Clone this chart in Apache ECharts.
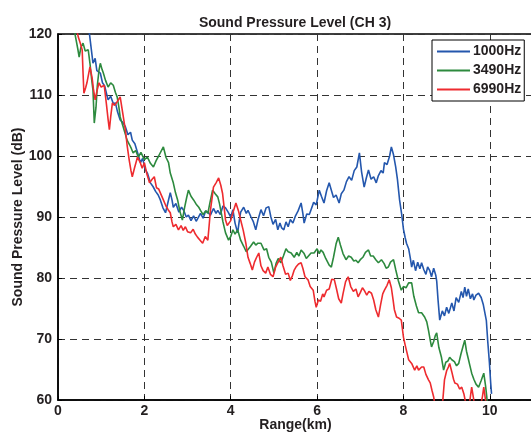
<!DOCTYPE html>
<html>
<head>
<meta charset="utf-8">
<script src="https://cdn.jsdelivr.net/npm/echarts@6/dist/echarts.min.js"></script>
<style>
  html, body { margin: 0; padding: 0; background: #fff; }
  #grafica { width: 531px; height: 435px; }
</style>
</head>
<body>
<div id="grafica"></div>
<script>
// datos: [rango km, nivel dB]
const seriesNames = ["1000Hz", "3490Hz", "6990Hz"];
const xTicks = [0, 2, 4, 6, 8, 10];
const yTicks = [60, 70, 80, 90, 100, 110, 120];

const ch1000 = [[0.55,124],[0.65,122],[0.72,120.5],[0.78,117],[0.81,115.2],[0.86,116],[0.9,114],[0.98,113.6],[1.03,112],[1.08,111.5],[1.16,109.2],[1.22,109.8],[1.28,108.6],[1.33,108.7],[1.38,107.2],[1.44,105.9],[1.5,105.5],[1.56,104.8],[1.62,103.5],[1.68,103.9],[1.72,102.6],[1.78,102],[1.84,100.6],[1.91,98.9],[1.96,99.6],[2.02,97.8],[2.07,97.2],[2.14,95.6],[2.2,95],[2.26,94.2],[2.32,93.6],[2.37,92.8],[2.43,91.5],[2.49,90.7],[2.55,92.5],[2.6,94],[2.64,92.8],[2.67,91.6],[2.73,92.2],[2.8,90.8],[2.86,91.6],[2.91,91.1],[2.97,90],[3.02,90.3],[3.08,89.4],[3.14,90.2],[3.2,89.3],[3.23,89.2],[3.3,90.6],[3.36,89.8],[3.42,91],[3.47,90.8],[3.53,90.3],[3.6,91.4],[3.66,90.6],[3.7,91.1],[3.76,90.4],[3.82,91.8],[3.88,91.5],[3.94,90.8],[4.0,90],[4.05,91.2],[4.1,89],[4.16,87.4],[4.2,89.5],[4.23,90.8],[4.3,91.6],[4.36,90.6],[4.4,91.1],[4.47,90],[4.52,89.3],[4.58,87.9],[4.63,89.5],[4.7,91.2],[4.76,90.2],[4.82,91.5],[4.88,91.7],[4.93,90],[4.98,88.8],[5.04,89.6],[5.09,87.9],[5.14,89],[5.18,88.2],[5.23,87.9],[5.28,89.2],[5.33,88.4],[5.38,89.6],[5.44,89],[5.5,90.2],[5.56,91],[5.63,92.3],[5.67,90.6],[5.7,89],[5.76,90.5],[5.82,90.4],[5.86,91.2],[5.92,92.4],[5.98,92],[6.05,94.4],[6.1,93.4],[6.16,92.3],[6.22,94.3],[6.28,95.6],[6.33,94.4],[6.38,93.2],[6.44,93.6],[6.51,92.3],[6.56,93.8],[6.62,94.4],[6.68,95.8],[6.74,96.6],[6.8,96],[6.86,97.6],[6.92,98.2],[6.98,100.5],[7.03,97.4],[7.09,94.9],[7.14,96.4],[7.19,97.7],[7.25,96.2],[7.31,96.6],[7.37,95.6],[7.42,96.8],[7.48,97.6],[7.53,97.2],[7.56,98.9],[7.62,98.6],[7.68,100],[7.72,101.5],[7.77,100.2],[7.82,98.2],[7.86,96.2],[7.91,92.8],[7.96,90.4],[8.0,88],[8.04,86.6],[8.07,85.7],[8.12,84.8],[8.16,83.2],[8.19,81.8],[8.23,82.9],[8.28,81.2],[8.33,82.6],[8.38,81.5],[8.42,82.5],[8.47,81.4],[8.52,80.6],[8.56,81.8],[8.61,81.2],[8.65,80.2],[8.7,81.6],[8.75,80.4],[8.77,79.5],[8.8,76.5],[8.84,73.1],[8.9,74.6],[8.95,73.8],[9.0,75.2],[9.05,74.2],[9.12,75.9],[9.17,74.6],[9.22,76.8],[9.28,76],[9.34,77.8],[9.38,76.8],[9.42,78.5],[9.46,77],[9.5,78.2],[9.55,76.6],[9.6,77.4],[9.63,76.4],[9.68,77.2],[9.74,77.5],[9.8,76.8],[9.85,75.6],[9.88,75.9],[9.92,73],[9.95,69.8],[9.99,66.2],[10.02,62.8],[10.04,61]];

const ch3490 = [[0.3,124],[0.38,120.5],[0.42,119],[0.46,117.5],[0.49,116.2],[0.53,117.8],[0.58,118.5],[0.63,117.2],[0.7,117.4],[0.74,115.2],[0.78,112.5],[0.81,110.8],[0.84,105.4],[0.88,108],[0.91,111.5],[0.95,114.1],[0.98,115.2],[1.02,114.2],[1.05,113.6],[1.1,112.4],[1.16,111.3],[1.22,112],[1.28,111.6],[1.33,110.4],[1.37,109.7],[1.41,108],[1.44,106.4],[1.5,105],[1.55,103.8],[1.6,102.6],[1.66,101.8],[1.7,101.2],[1.74,100.5],[1.8,100.9],[1.86,99.8],[1.92,100.6],[2.0,99.4],[2.07,99.8],[2.14,98.8],[2.21,98.2],[2.27,99.2],[2.33,100],[2.37,100.2],[2.44,101.5],[2.5,99.8],[2.56,98.9],[2.6,97.2],[2.67,95.6],[2.72,94],[2.77,92.8],[2.82,91],[2.88,89.5],[2.93,91.5],[2.98,93.2],[3.02,94.4],[3.08,93.4],[3.14,92.8],[3.2,92.1],[3.26,91.6],[3.3,91.1],[3.36,90.4],[3.42,91],[3.47,90.6],[3.52,92.4],[3.58,94.4],[3.64,93.8],[3.7,93.3],[3.74,92.2],[3.77,91.1],[3.82,89.2],[3.88,87.4],[3.95,86.2],[4.0,86.8],[4.05,87.9],[4.1,87.2],[4.16,87.9],[4.23,86.2],[4.3,85.2],[4.36,84.3],[4.4,84.1],[4.46,85.2],[4.53,85.9],[4.58,85.4],[4.63,85.7],[4.7,85.7],[4.77,84.6],[4.83,84.8],[4.88,83.4],[4.94,82.6],[5.0,80.8],[5.05,82.4],[5.1,83.2],[5.16,82.5],[5.22,83.6],[5.28,84.8],[5.33,84.3],[5.4,84.1],[5.47,83.4],[5.53,84.2],[5.58,83.6],[5.63,84.6],[5.7,84],[5.75,83.2],[5.79,83.4],[5.86,84.1],[5.93,84.1],[6.0,84.8],[6.05,84],[6.09,84.6],[6.14,84.2],[6.2,83.2],[6.28,82.1],[6.33,81.8],[6.38,83.4],[6.44,85.6],[6.49,86.7],[6.54,85.4],[6.6,84],[6.67,83],[6.73,83.6],[6.79,83.4],[6.85,82.8],[6.9,82.9],[6.95,82.5],[7.0,83],[7.06,83.4],[7.12,84.2],[7.19,84.6],[7.24,83.6],[7.3,83.6],[7.36,83],[7.42,82.5],[7.49,83],[7.55,82.4],[7.6,81.6],[7.65,81.8],[7.7,82.6],[7.77,83],[7.82,81.4],[7.88,79.6],[7.95,78],[8.0,78.6],[8.06,78.4],[8.12,79.2],[8.19,79.2],[8.24,77],[8.3,75.4],[8.35,74.3],[8.42,74.3],[8.49,73.6],[8.54,72.8],[8.58,71.4],[8.62,69.8],[8.65,68.7],[8.7,69.6],[8.74,70.6],[8.77,71],[8.82,68.6],[8.88,67],[8.93,64.9],[8.98,66.2],[9.03,66.4],[9.07,67],[9.12,66.6],[9.18,66.3],[9.23,65.6],[9.28,66],[9.33,67.5],[9.38,68.8],[9.42,69.8],[9.46,68],[9.5,66.8],[9.54,65.6],[9.58,64.4],[9.63,63.4],[9.68,62.6],[9.74,62.1],[9.8,63.2],[9.86,64.4],[9.9,62.4],[9.93,60.5],[9.96,58]];

const ch6990 = [[0.35,124],[0.44,120.5],[0.47,119.5],[0.52,118.4],[0.56,117.4],[0.58,113.6],[0.6,110.3],[0.64,111.2],[0.67,112],[0.74,114.6],[0.79,112.8],[0.82,111],[0.86,109.2],[0.9,110.6],[0.95,112],[1.0,111.3],[1.07,111.6],[1.12,108.6],[1.16,106],[1.19,104.3],[1.22,106.4],[1.26,108.7],[1.31,108.3],[1.37,108.9],[1.44,109.7],[1.5,107],[1.56,104.3],[1.6,101.8],[1.65,99.3],[1.69,97.6],[1.72,96.6],[1.77,98],[1.84,99.8],[1.9,99],[1.95,98],[2.0,98.9],[2.06,97],[2.12,95.6],[2.18,96.2],[2.23,96.6],[2.28,94.8],[2.33,94.6],[2.37,94.4],[2.44,92.8],[2.5,91.8],[2.55,91.2],[2.6,90.7],[2.64,89.2],[2.67,88.4],[2.73,88.8],[2.79,87.9],[2.85,88.6],[2.9,87.8],[2.95,88.4],[3.0,87.6],[3.07,87.4],[3.13,88],[3.18,87.2],[3.23,86.7],[3.29,86.2],[3.35,85.7],[3.41,86.8],[3.47,86.2],[3.5,88.6],[3.53,91.1],[3.57,93.2],[3.6,94.9],[3.66,95.6],[3.72,96.4],[3.77,95.2],[3.81,93.9],[3.85,91.4],[3.88,89.5],[3.92,88.6],[3.95,88.4],[4.0,89.4],[4.05,90.7],[4.12,92.3],[4.18,91],[4.23,89.5],[4.29,87.8],[4.35,85.7],[4.4,83.4],[4.45,82.4],[4.5,81.3],[4.55,82.6],[4.6,83.4],[4.65,84.1],[4.7,82],[4.75,81.2],[4.81,80.8],[4.86,81.8],[4.92,80.6],[4.98,80.2],[5.04,81.8],[5.09,82.5],[5.16,83.4],[5.21,82],[5.27,80.6],[5.33,80.8],[5.38,79.6],[5.43,80.4],[5.47,81.3],[5.51,81.8],[5.57,82.3],[5.63,82.5],[5.67,81.6],[5.72,80.2],[5.79,79.7],[5.84,78.6],[5.91,78],[5.95,76.2],[5.98,75.2],[6.03,76.4],[6.08,76.2],[6.13,77.4],[6.16,76.9],[6.22,78],[6.28,78.2],[6.34,79.8],[6.4,79.7],[6.45,78.2],[6.5,76.6],[6.56,75.9],[6.6,77.4],[6.66,79.4],[6.72,80.2],[6.78,78.6],[6.84,77.8],[6.9,78.2],[6.95,76.9],[7.0,77.6],[7.05,78.4],[7.09,78],[7.15,77.2],[7.2,77.8],[7.26,77.5],[7.31,76.4],[7.36,74.8],[7.42,73.6],[7.47,75.6],[7.52,77.4],[7.56,78],[7.62,78.8],[7.67,79.7],[7.72,78.4],[7.76,76.4],[7.79,74.8],[7.84,73.6],[7.9,73.4],[7.95,73.1],[8.0,70.3],[8.04,69],[8.08,67.8],[8.12,66.6],[8.19,66],[8.26,64.9],[8.31,65.6],[8.35,64.9],[8.42,65.4],[8.47,65.4],[8.52,64.2],[8.58,63.3],[8.62,62.8],[8.66,61.6],[8.7,60.5],[8.74,58.5],[8.78,57],[8.85,56.5],[8.9,59],[8.95,63.3],[9.0,64.8],[9.04,65.4],[9.07,66],[9.12,64.6],[9.16,63.4],[9.19,62.8],[9.25,62.6],[9.3,61.8],[9.35,62.1],[9.4,61],[9.45,59.2],[9.5,58],[9.54,60],[9.58,62.1],[9.62,60.4],[9.66,58.4],[9.72,57.6],[9.78,58.8],[9.83,60.6],[9.86,62.1],[9.9,60],[9.93,58]];

const colores = ["#2457ad", "#2d8a3e", "#ee2b2f"];
const fuente = "Liberation Sans, Arial, sans-serif";

let myChart = echarts.init(document.getElementById("grafica"));

myChart.setOption({
  backgroundColor: "#fff",
  animation: false,
  color: colores,
  title: {
    text: "Sound Pressure Level (CH 3)",
    left: 290,
    top: 11,
    textAlign: "center",
    textStyle: { fontFamily: fuente, fontSize: 14, fontWeight: "bold", color: "#231f20" }
  },
  legend: {
    orient: "vertical",
    left: 432,
    top: 40,
    icon: "rect",
    itemWidth: 33,
    itemHeight: 2,
    itemGap: 4,
    padding: [4, 3, 4, 5],
    backgroundColor: "#fff",
    borderColor: "#000",
    borderWidth: 1,
    borderRadius: 0,
    textStyle: { fontFamily: fuente, fontSize: 14, fontWeight: "bold", color: "#231f20", lineHeight: 15, padding: [0, 0, 0, -2] },
    data: seriesNames
  },
  grid: {
    left: 58, top: 34, right: -2, bottom: 35,
    outerBoundsMode: "none",
    containLabel: false,
    show: true, borderColor: "#000", borderWidth: 1.5
  },
  xAxis: {
    type: "value",
    min: 0,
    max: 11,
    interval: 2,
    name: "Range(km)",
    nameLocation: "middle",
    nameGap: 18,
    nameMoveOverlap: false,
    nameTextStyle: { fontFamily: fuente, fontSize: 14, fontWeight: "bold", color: "#231f20", verticalAlign: "top" },
    axisLine: { lineStyle: { color: "#000", width: 1.5 } },
    axisTick: { inside: true, length: 4, lineStyle: { color: "#000" } },
    axisLabel: {
      showMaxLabel: false,
      margin: 4,
      fontFamily: fuente, fontSize: 14, fontWeight: "bold", color: "#231f20",
      formatter: (v) => (xTicks.includes(v) ? String(v) : "")
    },
    splitLine: { show: true, lineStyle: { color: "#333", type: [7, 5], width: 1 } }
  },
  yAxis: {
    type: "value",
    min: 60,
    max: 120,
    interval: 10,
    name: "Sound Pressure Level (dB)",
    nameLocation: "middle",
    nameGap: 33,
    nameMoveOverlap: false,
    nameTextStyle: { fontFamily: fuente, fontSize: 14, fontWeight: "bold", color: "#231f20" },
    axisLine: { lineStyle: { color: "#000", width: 1.5 } },
    axisTick: { inside: true, length: 4, lineStyle: { color: "#000" } },
    axisLabel: {
      margin: 6,
      fontFamily: fuente, fontSize: 14, fontWeight: "bold", color: "#231f20",
      formatter: (v) => (yTicks.includes(v) ? String(v) : "")
    },
    splitLine: { show: true, lineStyle: { color: "#333", type: [7, 5], width: 1 } }
  },
  series: [ch1000, ch3490, ch6990].map((d, i) => ({
    name: seriesNames[i],
    type: "line",
    data: d,
    symbol: "none",
    clip: true,
    lineStyle: { width: 1.6, color: colores[i] }
  }))
});
</script>
</body>
</html>
